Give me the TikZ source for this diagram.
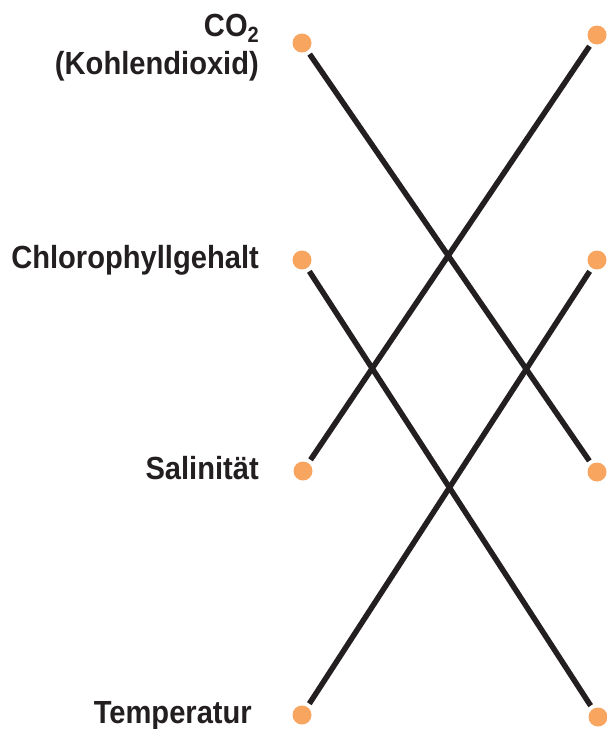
\documentclass[tikz,border=0pt]{standalone}
\usepackage{fontspec}
\setmainfont{Liberation Sans}[FakeStretch=0.91]
\definecolor{dotorange}{HTML}{F8A560}
\definecolor{linedark}{HTML}{231F20}
\begin{document}
\begin{tikzpicture}[x=1pt,y=-1pt,
  dot/.style={circle,fill=dotorange,minimum size=19pt,inner sep=0pt,outer sep=0pt},
  link/.style={line width=5.5pt,draw=linedark,shorten <=4pt,shorten >=4pt},
  lbl/.style={anchor=base east,inner sep=0pt,text=linedark,align=right,
    font=\fontsize{32}{38}\selectfont\bfseries}]
\useasboundingbox (0,0) rectangle (606,729);
\node[dot] (l1) at (302,43) {};
\node[dot] (l2) at (302,260) {};
\node[dot] (l3) at (303,471) {};
\node[dot] (l4) at (302,715) {};
\node[dot] (r1) at (597,35) {};
\node[dot] (r2) at (597,260) {};
\node[dot] (r3) at (597,472) {};
\node[dot] (r4) at (598,717) {};
\draw[link] (l1) -- (r3);
\draw[link] (l2) -- (r4);
\draw[link] (l3) -- (r1);
\draw[link] (l4) -- (r2);
\node[lbl] (t1) at (259,74) {CO\raisebox{-6pt}{\fontsize{22}{22}\selectfont 2}\\(Kohlendioxid)};
\node[lbl] (t2) at (259,268) {Chlorophyllgehalt};
\node[lbl] (t3) at (259,479) {Salinität};
\node[lbl] (t4) at (252,723) {Temperatur};
\end{tikzpicture}
\end{document}
